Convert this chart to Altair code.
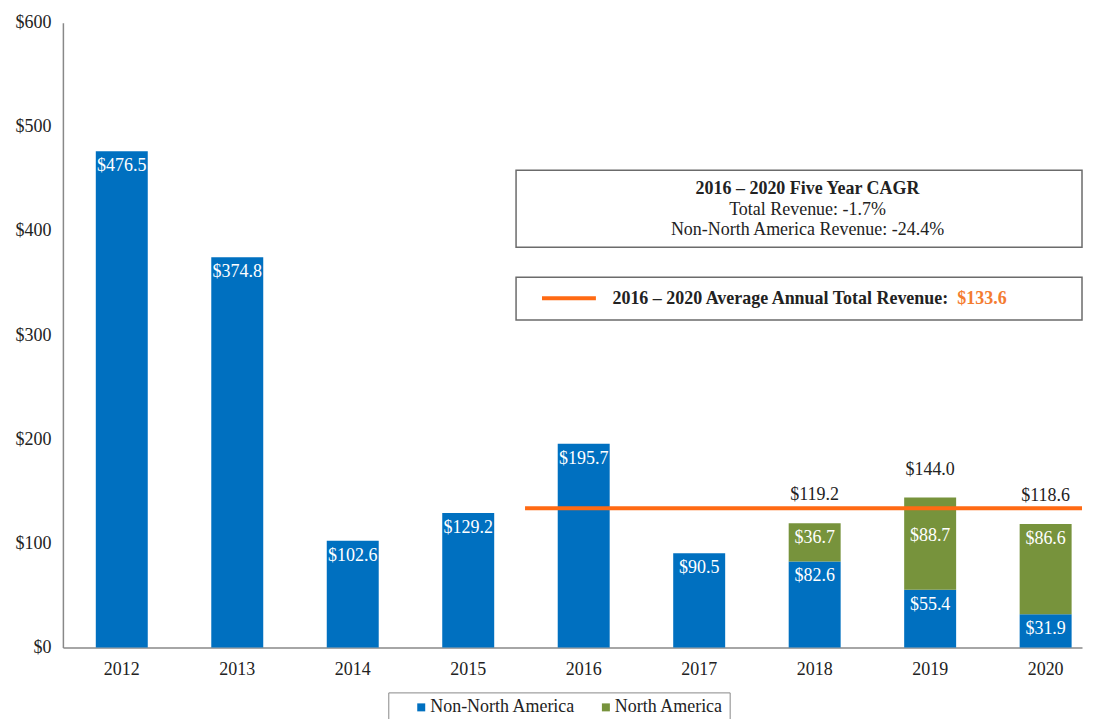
import altair as alt
import pandas as pd

years = ["2012", "2013", "2014", "2015", "2016", "2017", "2018", "2019", "2020"]
non_na = [476.5, 374.8, 102.6, 129.2, 195.7, 90.5, 82.6, 55.4, 31.9]
north_am = [None, None, None, None, None, None, 36.7, 88.7, 86.6]
total_years = ["2018", "2019", "2020"]
total_labels = [119.2, 144.0, 118.6]
avg_value = 133.6
series_names = ["Non-North America", "North America"]
series_colors = ["#0070C0", "#77933C"]
box1_lines = ["2016 \u2013 2020 Five Year CAGR", "Total Revenue: -1.7%", "Non-North America Revenue: -24.4%"]
box2_text = "2016 \u2013 2020 Average Annual Total Revenue:"
box2_value = "$133.6"

FONT = "Liberation Serif"
ORANGE = "#FF6A13"

rows = []
for y, a, b in zip(years, non_na, north_am):
    rows.append({"year": y, "series": series_names[0], "order": 0, "value": a, "label": f"${a:.1f}"})
    if b is not None:
        rows.append({"year": y, "series": series_names[1], "order": 1, "value": b, "label": f"${b:.1f}"})
df = pd.DataFrame(rows)
tot = pd.DataFrame({"year": total_years, "total": total_labels, "label": [f"${v:.1f}" for v in total_labels]})
avg = pd.DataFrame({"avg": [avg_value]})
ann = pd.DataFrame({"a": [0]})

W, H = 1021, 626

x_enc = alt.X("year:O", title=None,
              scale=alt.Scale(paddingInner=0.55, paddingOuter=0.1874, align=0.76),
              axis=alt.Axis(labelAngle=0, ticks=False, domainColor="#888888", domainWidth=1.5,
                            labelFont=FONT, labelFontSize=18, labelColor="#222222", labelPadding=13))

base = alt.Chart(df).transform_stack(
    stack="value", groupby=["year"], as_=["y0", "y1"],
    sort=[alt.SortField("order", order="ascending")]
)

bars = base.mark_bar().encode(
    x=x_enc,
    y=alt.Y("y0:Q", title=None, scale=alt.Scale(domain=[0, 600]),
            axis=alt.Axis(values=[0, 100, 200, 300, 400, 500, 600], format="$,.0f", grid=False,
                          ticks=False, domainColor="#888888", domainWidth=1.5,
                          labelFont=FONT, labelFontSize=18, labelColor="#222222",
                          labelPadding=12, minExtent=50, maxExtent=50)),
    y2="y1:Q",
    color=alt.Color("series:N", scale=alt.Scale(domain=series_names, range=series_colors),
                    legend=alt.Legend(title=None, orient="none", legendX=326, legendY=671,
                                      direction="horizontal", symbolType="square", symbolSize=64,
                                      symbolStrokeWidth=0, labelFont=FONT, labelFontSize=18,
                                      labelColor="#222222", strokeColor="#888888", padding=6,
                                      symbolOffset=18, columnPadding=3, labelOffset=0)),
)

moved = "datum.year == '2019' && datum.order == 1"

seg_labels = base.transform_filter("!(" + moved + ")").mark_text(
    baseline="top", dy=6, color="white", font=FONT, fontSize=18).encode(
    x="year:O", y="y1:Q", text="label:N")

seg_labels_low = base.transform_filter(moved).mark_text(
    baseline="top", dy=30, color="white", font=FONT, fontSize=18).encode(
    x="year:O", y="y1:Q", text="label:N")

totals = alt.Chart(tot).mark_text(baseline="middle", dy=-28, color="#222222", font=FONT, fontSize=18).encode(
    x="year:O", y="total:Q", text="label:N")

avg_rule = alt.Chart(avg).mark_rule(color=ORANGE, strokeWidth=4).encode(
    y="avg:Q", x=alt.value(463), x2=alt.value(W))

box1 = alt.Chart(ann).mark_rect(fill="white", stroke="#6b6b6b", strokeWidth=1.5).encode(
    x=alt.value(454), x2=alt.value(W), y=alt.value(148), y2=alt.value(225))
box2 = alt.Chart(ann).mark_rect(fill="white", stroke="#6b6b6b", strokeWidth=1.5).encode(
    x=alt.value(454), x2=alt.value(W), y=alt.value(255), y2=alt.value(298))

t1 = alt.Chart(ann).mark_text(font=FONT, fontSize=18, fontWeight="bold", color="#222222",
                              align="center", baseline="middle").encode(
    x=alt.value(746), y=alt.value(167), text=alt.value(box1_lines[0]))
t2 = alt.Chart(ann).mark_text(font=FONT, fontSize=18, color="#222222",
                              align="center", baseline="middle").encode(
    x=alt.value(746), y=alt.value(188), text=alt.value(box1_lines[1]))
t3 = alt.Chart(ann).mark_text(font=FONT, fontSize=18, color="#222222",
                              align="center", baseline="middle").encode(
    x=alt.value(746), y=alt.value(208), text=alt.value(box1_lines[2]))

key_line = alt.Chart(ann).mark_rule(color=ORANGE, strokeWidth=4).encode(
    x=alt.value(480), x2=alt.value(534), y=alt.value(276))
t4 = alt.Chart(ann).mark_text(font=FONT, fontSize=18, fontWeight="bold", color="#222222",
                              align="right", baseline="middle").encode(
    x=alt.value(887), y=alt.value(277), text=alt.value(box2_text))
t5 = alt.Chart(ann).mark_text(font=FONT, fontSize=18, fontWeight="bold", color="#F47C30",
                              align="left", baseline="middle").encode(
    x=alt.value(896), y=alt.value(277), text=alt.value(box2_value))

chart = alt.layer(bars, seg_labels, seg_labels_low, totals, avg_rule, box1, box2,
                  t1, t2, t3, key_line, t4, t5).properties(
    width=W, height=H, padding={"left": 5, "top": 5, "right": 2, "bottom": 5}
).configure_view(stroke=None)

chart.save("out.html", embed_options={"renderer": "svg", "actions": False})
